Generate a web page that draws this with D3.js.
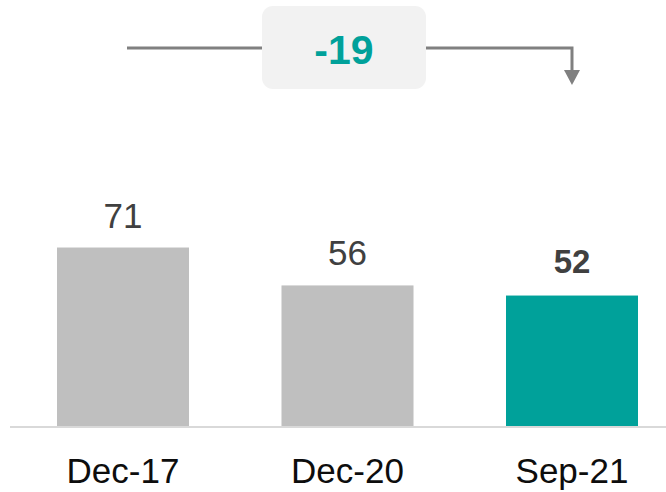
<!DOCTYPE html>
<html lang="en">
<head>
    <meta charset="UTF-8">
    <script src="https://d3js.org/d3.v7.min.js"></script>
    <title>Chart</title>
    <style>
        html, body { margin: 0; padding: 0; background: #fff; }
        svg { display: block; font-family: "Liberation Sans", Arial, sans-serif; }
    </style>
</head>
<body>
    <div id="chart"></div>
<script>
    // data
    const categories = ['Dec-17', 'Dec-20', 'Sep-21'];
    const values = [71, 56, 52];
    const highlight = 'Sep-21';
    const changeLabel = '-19';

    const width = 666;
    const height = 492;
    const baseY = 427;

    const xScale = d3.scaleBand()
        .domain(categories)
        .range([57, 638])
        .paddingInner(0.412)
        .paddingOuter(0);
    const yScale = d3.scaleLinear().domain([0, 80]).range([baseY, baseY - 80 * 2.528]);

    const svg = d3.select('#chart')
        .append('svg')
        .attr('width', width)
        .attr('height', height);

    //-Bars
    svg.selectAll('rect.bar')
        .data(categories)
        .enter()
        .append('rect')
        .attr('class', 'bar')
        .attr('x', c => xScale(c))
        .attr('y', (c, i) => yScale(values[i]))
        .attr('width', xScale.bandwidth())
        .attr('height', (c, i) => baseY - yScale(values[i]))
        .style('fill', c => c === highlight ? '#00a19a' : '#bfbfbf');

    //-Value labels
    svg.selectAll('text.value')
        .data(categories)
        .enter()
        .append('text')
        .attr('class', 'value')
        .attr('x', c => xScale(c) + xScale.bandwidth() / 2)
        .attr('y', (c, i) => yScale(values[i]) - (c === highlight ? 23 : 20))
        .attr('text-anchor', 'middle')
        .style('font-size', c => c === highlight ? '33px' : '35px')
        .style('font-weight', c => c === highlight ? 'bold' : 'normal')
        .style('fill', '#404040')
        .text((c, i) => values[i]);

    //-Baseline
    svg.append('line')
        .attr('x1', 10).attr('x2', width)
        .attr('y1', baseY).attr('y2', baseY)
        .style('stroke', '#d9d9d9')
        .style('stroke-width', 2);

    //-X axis
    const xAxis = d3.axisBottom(xScale).tickSize(0).tickPadding(31);
    const gx = svg.append('g')
        .attr('transform', `translate(0,${baseY})`)
        .call(xAxis);
    gx.select('.domain').remove();
    gx.selectAll('text')
        .style('font-size', '35px')
        .style('font-family', '"Liberation Sans", Arial, sans-serif')
        .style('fill', '#0d0d0d');

    //-Change annotation
    const x0 = xScale(categories[0]) + xScale.bandwidth() / 2 + 4;
    const x1 = xScale(categories[2]) + xScale.bandwidth() / 2;
    const lineY = 48;
    const boxX = 262, boxW = 164, boxY = 6, boxH = 83;

    svg.append('path')
        .attr('d', `M${x0},${lineY}H${x1}V72`)
        .style('fill', 'none')
        .style('stroke', '#808080')
        .style('stroke-width', 3);
    svg.append('path')
        .attr('d', `M${x1 - 8},70L${x1 + 8},70L${x1},85Z`)
        .style('fill', '#808080');

    svg.append('rect')
        .attr('x', boxX).attr('y', boxY)
        .attr('width', boxW).attr('height', boxH)
        .attr('rx', 11)
        .style('fill', '#f2f2f2');
    svg.append('text')
        .attr('x', boxX + boxW / 2)
        .attr('y', 64)
        .attr('text-anchor', 'middle')
        .style('font-size', '41px')
        .style('font-weight', 'bold')
        .style('fill', '#00a19a')
        .text(changeLabel);
</script>
</body>
</html>
